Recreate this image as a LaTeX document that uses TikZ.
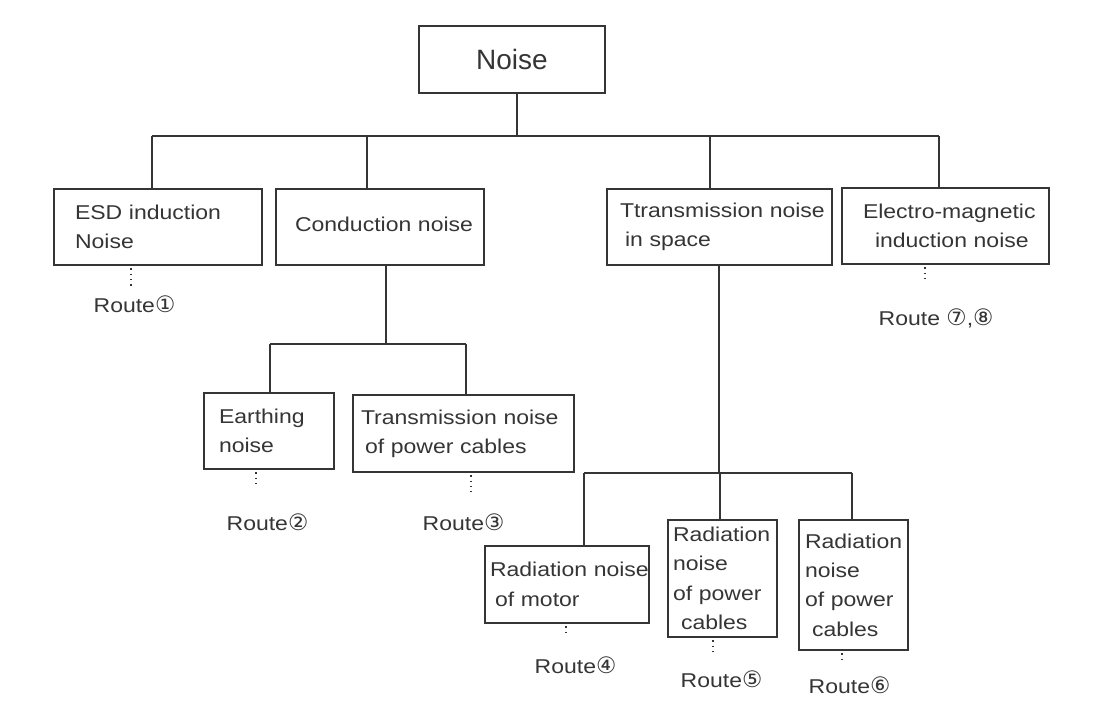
\documentclass[tikz,border=0pt]{standalone}
\usepackage{fontspec}
\usepackage{xcolor}
\usepackage{tikz}
\newfontfamily\boxfont{Liberation Sans}[FakeStretch=1.15]
\newfontfamily\headfont{Liberation Sans}
\newfontfamily\numfont{DejaVu Sans}
\newcommand{\cnum}[1]{{\numfont\fontsize{17pt}{22pt}\selectfont #1}}
\definecolor{ink}{HTML}{353535}
\hyphenpenalty=10000 \exhyphenpenalty=10000

\begin{document}
\begin{tikzpicture}[x=0.75pt,y=-0.75pt,line width=1pt,color=ink,
  every node/.style={font=\boxfont\fontsize{15pt}{22pt}\selectfont,inner sep=0pt},
  box/.style={draw,align=left,inner ysep=0pt},
  dots/.style={line width=0.9pt,dash pattern=on 1pt off 3pt},
  route/.style={anchor=base west}]
  \useasboundingbox (0,0) rectangle (1098,717);
  % boxes
  \node[box,minimum width=139.5pt,minimum height=50.25pt,
        font=\headfont\fontsize{21pt}{24pt}\selectfont] (noise) at (512,59.5) {Noise};
  \node[box,inner xsep=15.75pt,text width=124.5pt,minimum height=57pt] (esd) at (158,227)
    {ESD~induction\\Noise};
  \node[box,inner xsep=14.25pt,text width=127.5pt,minimum height=57pt] (cond) at (380,227)
    {\raisebox{4pt}{Conduction~noise}};
  \node[box,inner xsep=9.75pt,text width=149.25pt,minimum height=57pt] (space) at (719.5,227)
    {Ttransmission~noise\\\hspace*{3.75pt}in~space};
  \node[box,inner xsep=15.75pt,text width=123.75pt,minimum height=57pt] (emag) at (945.5,226)
    {\mbox{Electro-magnetic}\\\hspace*{9pt}induction~noise};
  \node[box,inner xsep=11.25pt,text width=75pt,minimum height=57pt] (earth) at (269,431)
    {Earthing\\noise};
  \node[box,inner xsep=6pt,text width=153.75pt,minimum height=57.75pt] (cable) at (463.5,433.5)
    {Transmission~noise\\\hspace*{3pt}of~power~cables};
  \node[box,inner xsep=3.75pt,text width=115.5pt,minimum height=57.75pt] (motor) at (567,584.5)
    {Radiation~noise\\\hspace*{3.75pt}of~motor};
  \node[box,inner xsep=3.75pt,text width=74.25pt,minimum height=87.75pt] (radA) at (722.5,578.5)
    {Radiation\\noise\\of~power\\\hspace*{6pt}cables};
  \node[box,inner xsep=4.5pt,text width=72.75pt,minimum height=97.5pt] (radB) at (853.5,585)
    {Radiation\\noise\\of~power\\\hspace*{5.25pt}cables};
  % routes
  \node[route] (r1) at (93,312)  {Route\cnum{①}};
  \node[route] (r2) at (226,530) {Route\cnum{②}};
  \node[route] (r3) at (422,530) {Route\cnum{③}};
  \node[route] (r4) at (534,673) {Route\cnum{④}};
  \node[route] (r5) at (680,687) {Route\cnum{⑤}};
  \node[route] (r6) at (808,693) {Route\cnum{⑥}};
  \node[route] (r7) at (878,325) {Route \cnum{⑦},\cnum{⑧}};
  % tree lines
  \coordinate (top) at (517,136);
  \coordinate (t1) at (152,136);
  \coordinate (t2) at (367,136);
  \coordinate (t3) at (710,136);
  \coordinate (t4) at (939,136);
  \draw (top |- noise.south) -- (top);
  \draw (t1) -- (t4);
  \foreach \c/\b in {t1/esd,t2/cond,t3/space,t4/emag} \draw (\c) -- (\c |- \b.north);
  \coordinate (m0) at (386,344);
  \coordinate (m1) at (270,344);
  \coordinate (m2) at (466,344);
  \draw (m0 |- cond.south) -- (m0);
  \draw (m1) -- (m2);
  \foreach \c/\b in {m1/earth,m2/cable} \draw (\c) -- (\c |- \b.north);
  \coordinate (b0) at (719,473);
  \coordinate (b1) at (584,473);
  \coordinate (b2) at (720,473);
  \coordinate (b3) at (852,473);
  \draw (b0 |- space.south) -- (b0);
  \draw (b1) -- (b3);
  \foreach \c/\b in {b1/motor,b2/radA,b3/radB} \draw (\c) -- (\c |- \b.north);
  % dotted leads to routes
  \coordinate (d1) at (131,287);
  \coordinate (d2) at (925,283);
  \coordinate (d3) at (256,488);
  \coordinate (d4) at (471,492);
  \coordinate (d5) at (566,637);
  \coordinate (d6) at (713,653);
  \coordinate (d7) at (842,663);
  \foreach \d/\b in {d1/esd,d2/emag,d3/earth,d4/cable,d5/motor,d6/radA,d7/radB}
    \draw[dots] ([yshift=-2pt]\d |- \b.south) -- (\d);
\end{tikzpicture}
\end{document}
